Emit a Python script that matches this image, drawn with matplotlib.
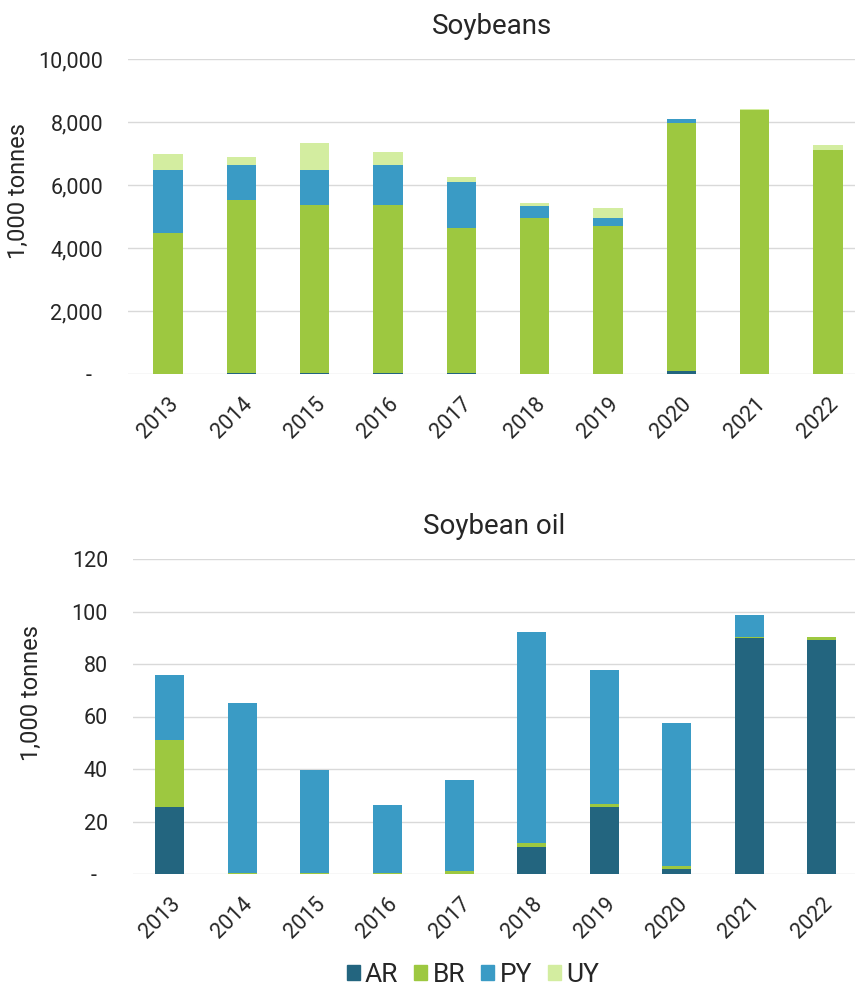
import numpy as np
import matplotlib
matplotlib.use("Agg")
import matplotlib.pyplot as plt
from matplotlib.patches import Patch
from matplotlib.ticker import FuncFormatter

plt.rcParams['font.family'] = ['Roboto', 'DejaVu Sans']

years = ['2013', '2014', '2015', '2016', '2017', '2018', '2019', '2020', '2021', '2022']
origins = ['AR', 'BR', 'PY', 'UY']
colors = ['#23657f', '#9dc840', '#3a9bc5', '#d3eda0']

# soybeans, 1,000 tonnes
beans_ar = [0, 30, 30, 30, 30, 0, 0, 80, 0, 0]
beans_br = [4470, 5490, 5340, 5340, 4590, 4940, 4710, 7880, 8390, 7110]
beans_py = [2010, 1110, 1110, 1260, 1480, 380, 230, 120, 0, 0]
beans_uy = [520, 270, 840, 430, 160, 100, 320, 0, 30, 160]

# soybean oil, 1,000 tonnes
oil_ar = [25.6, 0, 0, 0, 0, 10.4, 25.6, 2.0, 89.8, 89.2]
oil_br = [25.4, 0.5, 0.5, 0.5, 1.0, 1.3, 1.2, 1.2, 0.6, 1.2]
oil_py = [24.8, 64.5, 39.1, 25.8, 34.8, 80.6, 50.9, 54.2, 8.3, 0]
oil_uy = [0, 0, 0, 0, 0, 0, 0, 0, 0, 0]

text_col = '#262626'
grid_col = '#d9d9d9'


def thousands(v, pos):
    if v == 0:
        return '-  '
    return '{:,.0f}'.format(v)


def stacked(ax, series, title, ymax, step, xlim):
    x = np.arange(len(years))
    bottom = np.zeros(len(years))
    for vals, c in zip(series, colors):
        vals = np.array(vals, dtype=float)
        ax.bar(x, vals, 0.40, bottom=bottom, color=c, zorder=3)
        bottom += vals
    ax.set_ylim(0, ymax)
    ax.set_xlim(*xlim)
    ax.set_yticks(np.arange(0, ymax + step, step))
    ax.yaxis.set_major_formatter(FuncFormatter(thousands))
    ax.yaxis.grid(True, color=grid_col, linewidth=1.0, zorder=0)
    for s in ax.spines.values():
        s.set_visible(False)
    ax.tick_params(axis='both', length=0, labelsize=15.5, colors=text_col)
    ax.tick_params(axis='y', pad=18)
    ax.tick_params(axis='x', pad=14)
    ax.set_xticks(x)
    ax.set_xticklabels(years, rotation=45, ha='right', rotation_mode='anchor')
    ax.set_ylabel('1,000 tonnes', fontsize=17, color=text_col)
    ax.set_title(title, fontsize=20, color=text_col, pad=18)


fig = plt.figure(figsize=(8.55, 9.9), dpi=100)
ax1 = fig.add_axes([128 / 855, 1 - 374 / 990, 727 / 855, 315 / 990])
ax2 = fig.add_axes([133 / 855, 1 - 874 / 990, 722 / 855, 315 / 990])

stacked(ax1, [beans_ar, beans_br, beans_py, beans_uy], 'Soybeans', 10000, 2000, (-0.546, 9.37))
stacked(ax2, [oil_ar, oil_br, oil_py, oil_uy], 'Soybean oil', 120, 20, (-0.507, 9.46))
ax1.yaxis.set_label_coords(-0.135, 0.58)
ax2.yaxis.set_label_coords(-0.125, 0.575)

handles = [Patch(color=c) for c in colors]
fig.legend(handles, origins, loc='center', bbox_to_anchor=(473 / 855, 1 - 975 / 990),
           ncol=4, frameon=False, fontsize=19, handlelength=0.5, handleheight=0.5,
           handletextpad=0.2, columnspacing=0.6, labelcolor=text_col)

fig.savefig('out.png', dpi=100)
